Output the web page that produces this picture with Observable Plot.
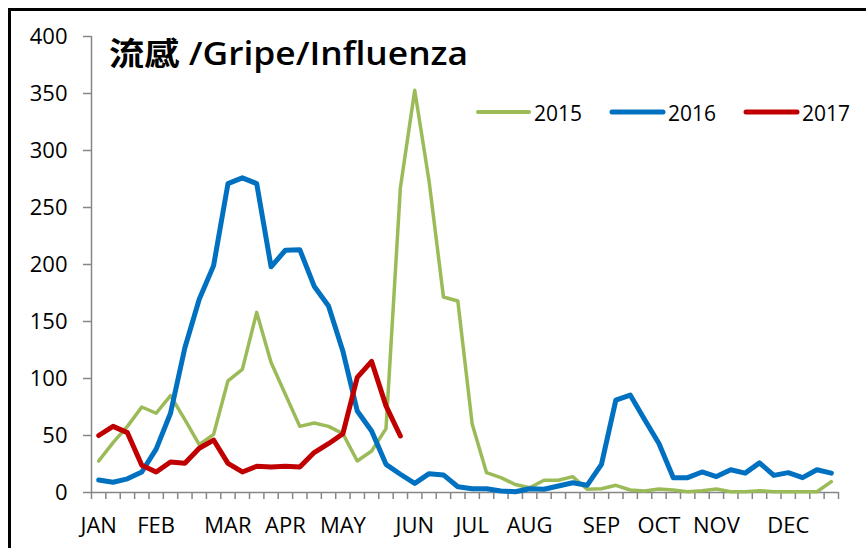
<!DOCTYPE html>
<html>
<head>
<meta charset="utf-8">
<script src="https://cdn.jsdelivr.net/npm/d3@7"></script>
<script src="https://cdn.jsdelivr.net/npm/@observablehq/plot@0.6"></script>
<style>
  html, body { margin: 0; padding: 0; background: #fff; overflow: hidden; }
  #wrap { position: relative; width: 866px; height: 548px; overflow: hidden; }
  #frame { position: absolute; left: 8px; top: 8px; width: 900px; height: 600px;
           border-left: 3px solid #000; border-top: 3px solid #000; box-sizing: border-box; }
  #chart { position: absolute; left: 0; top: 0; }
  #overlay { position: absolute; left: 0; top: 0; pointer-events: none; }
</style>
</head>
<body>
<div id="wrap">
  <div id="frame"></div>
  <div id="chart"></div>
  <svg id="overlay" width="866" height="548"></svg>
</div>
<script>
// ---- data (weekly cases, 52 weeks) ----
const title = "流感 /Gripe/Influenza";
const monthNames = ["JAN","FEB","MAR","APR","MAY","JUN","JUL","AUG","SEP","OCT","NOV","DEC"];
const monthWeek  = [0, 4, 9, 13, 17, 22, 26, 30, 35, 39, 43, 48];
const yTicks = [0, 50, 100, 150, 200, 250, 300, 350, 400];

const cases2015 = [27.6,43.7,58,75,69.5,85,64,42,51,98,108,158,114,86,58,61,58,51.6,27.6,36.4,56,267,352.8,273,171.5,168,60,17.4,13,7,4.2,10.7,10.7,13.9,2.8,3.3,6.3,2.2,1.3,3,2.2,0.7,1.6,3,0.7,0.7,1.6,0.7,0.7,0.7,0.7,9.5];
const cases2016 = [11,9,12,18,38,69.5,127,169.5,199,271,276,271,198,212.5,213,181,163.6,124,71.5,54,24.7,16,8,16.5,15.4,5,3.3,3.3,1.3,0.7,3.3,2.8,5.7,8.6,6.3,24.7,81,85.5,64,43,13,13,18,14,20,17,26,15,17.4,13,20,17];
const cases2017 = [50,58,52.5,24,18,26.8,25.6,38.8,46,25.6,18,23,22.4,23,22.4,35,42.8,51.6,101,115,76,49.6];

const seriesNames  = ["2015", "2016", "2017"];
const seriesColors = ["#9BBB59", "#0070C0", "#C00000"];
const seriesWidths = [3.5, 5, 5];
const seriesData   = [cases2015, cases2016, cases2017];

const nWeeks = 52;
const xDomain = [-0.5, nWeeks - 0.5];
const weekBounds = d3.range(-0.5, nWeeks, 1);

const rows = seriesData.map((arr, s) => arr.map((v, i) => ({week: i, value: v, year: seriesNames[s]})));

const axisColor = "#868686";
const font = "'Open Sans', 'Noto Sans CJK TC', sans-serif";

const plot = Plot.plot({
  width: 866,
  height: 548,
  marginLeft: 91,
  marginRight: 28,
  marginTop: 36,
  marginBottom: 56,
  style: {fontFamily: font, fontSize: "22px", color: "#000", background: "transparent", overflow: "visible"},
  x: {type: "linear", domain: xDomain, label: null},
  y: {domain: [0, 400], label: null},
  marks: [
    Plot.ruleY([0], {stroke: axisColor, strokeWidth: 1.5}),
    Plot.ruleX([xDomain[0]], {stroke: axisColor, strokeWidth: 1.5}),
    Plot.axisY({ticks: yTicks, tickSize: 8, tickPadding: 16, stroke: axisColor, strokeWidth: 1.5, fontSize: 22, tickFormat: d => String(d)}),
    Plot.axisX({ticks: weekBounds, tickSize: 7, stroke: axisColor, strokeWidth: 1.5, tickFormat: () => ""}),
    Plot.axisX({ticks: monthWeek, tickSize: 0, tickPadding: 25, fontSize: 22, tickFormat: w => monthNames[monthWeek.indexOf(w)]}),
    ...rows.map((r, s) => Plot.line(r, {x: "week", y: "value", stroke: seriesColors[s], strokeWidth: seriesWidths[s], strokeLinejoin: "round", strokeLinecap: "round"}))
  ]
});
document.getElementById("chart").appendChild(plot);

// ---- title and legend overlay ----
const ov = d3.select("#overlay");
ov.append("text").attr("x", 109).attr("y", 65)
  .attr("font-family", font).attr("font-size", 32).attr("font-weight", 600)
  .attr("textLength", 359).attr("lengthAdjust", "spacingAndGlyphs")
  .attr("fill", "#000").text(title);

const legendX = [478, 612, 746];
seriesNames.forEach((name, s) => {
  const g = ov.append("g").attr("transform", `translate(${legendX[s]},112)`);
  g.append("line").attr("x1", 0).attr("x2", 51).attr("y1", 0).attr("y2", 0)
    .attr("stroke", seriesColors[s]).attr("stroke-width", s === 0 ? 4 : 5).attr("stroke-linecap", "round");
  g.append("text").attr("x", 56).attr("y", 9).attr("font-family", font).attr("font-size", 21)
    .attr("fill", "#000").text(name);
});
</script>
</body>
</html>
